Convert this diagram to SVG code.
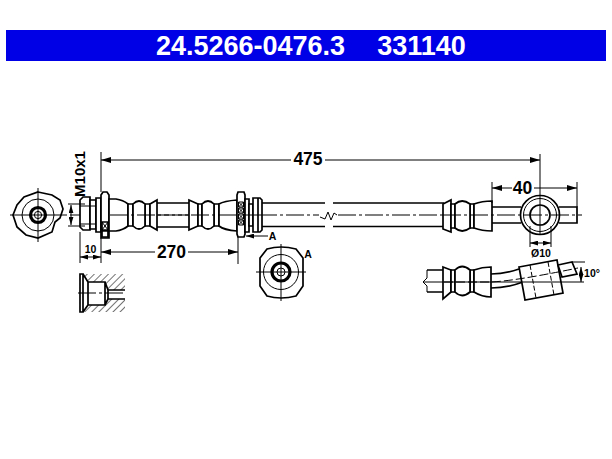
<svg xmlns="http://www.w3.org/2000/svg" width="612" height="459" viewBox="0 0 612 459">
<defs>
<style>
.o{fill:#fff;stroke:#000;stroke-width:1.7}
.n{fill:none;stroke:#000;stroke-width:1.7}
.t{fill:none;stroke:#000;stroke-width:1}
.r{fill:none;stroke:#000;stroke-width:3.2}
.c{fill:none;stroke:#000;stroke-width:1.1;stroke-dasharray:18 3 3 3}
text{font-family:"Liberation Sans",Arial,sans-serif;font-weight:700;fill:#000}
.d{font-size:17.5px;text-anchor:middle}
.s{font-size:10.5px;text-anchor:middle}
</style>
<marker id="a" viewBox="0 0 10 6" refX="10" refY="3" markerWidth="8" markerHeight="5" markerUnits="userSpaceOnUse" orient="auto-start-reverse"><path d="M0 0L10 3L0 6Z" fill="#000"/></marker>
<marker id="b" viewBox="0 0 10 6" refX="10" refY="3" markerWidth="11" markerHeight="6" markerUnits="userSpaceOnUse" orient="auto-start-reverse"><path d="M0 0L10 3L0 6Z" fill="#000"/></marker>
<pattern id="h" width="5" height="5" patternUnits="userSpaceOnUse" patternTransform="rotate(45)"><path d="M0 0V5" stroke="#000" stroke-width="1.1"/></pattern>
</defs>
<rect width="612" height="459" fill="#fff"/>
<g id="title"><rect x="6" y="30" width="600" height="31" fill="#0000e6"/>
<text x="250.500" y="55" font-size="27" text-anchor="middle" style="fill:#fff">24.5266-0476.3</text>
<text x="421.500" y="55" font-size="27" text-anchor="middle" style="fill:#fff">331140</text></g>

<g id="end-view-left">
<path class="n" d="M38 192L52 195L60 200L63 209L60 218L55 222L52 232L38 238L26 235L17 227L13 215L17 205L24 197Z"/>
<circle class="t" cx="38" cy="215" r="16"/>
<circle class="r" cx="38" cy="215" r="7.5"/>
<circle class="t" cx="38" cy="215" r="3.6"/>
<path class="t" d="M10 215H67M38 188V242"/>
</g>

<g id="hose">
<path class="n" d="M262 203H325M262 226.500H325M333 203H444M333 226.500H444"/>
<path class="t" d="M320 217L325 219L328 212L331 220L334 213L337 215"/>
<path class="c" d="M70 215H319M338 215H444"/>
</g>

<g id="fitting-left">
<path class="o" d="M80 200L83 197H90V230H83L80 227Z"/>
<path class="o" d="M90 200H96V229H90Z"/>
<path class="t" d="M80 206H96M80 224H96"/>
<path class="o" d="M96 198H101V232H96Z"/>
<path class="o" d="M101 195L103 192H107L109 195V238H101Z"/>
<path class="o" d="M102 222H108V230H102ZM102 231H108V237H102Z" stroke-width="1"/>
<path class="t" d="M102 222L108 230M108 222L102 230"/>
<path class="o" d="M109 199H116Q123 200 128 204V226Q123 230 116 231H109Z"/>
<path class="o" d="M128 204H133V226H128ZM145 204H150V226H145Z"/>
<path class="o" d="M133 204Q139 198 145 204V226Q139 232 133 226Z"/>
<path class="o" d="M150 204L157 200V230L150 226Z"/>
<path class="n" d="M157 203H189M157 227H189"/>
<path class="o" d="M189 200L198 204V226L189 230Z"/>
<path class="o" d="M198 204H202V226H198ZM214 204H219V226H214Z"/>
<path class="o" d="M202 204Q208 198 214 204V226Q208 232 202 226Z"/>
<path class="o" d="M219 204Q224 201 237 200V231Q224 230 219 226Z"/>
<path class="o" d="M237 195L238 192H244L245 195V234L244 237H238L237 234Z"/>
<path class="t" d="M238.500 202H243.500V207H238.500ZM238.500 202L243.500 207M243.500 202L238.500 207M238.500 208H243.500V213H238.500ZM238.500 208L243.500 213M243.500 208L238.500 213M238.500 214H243.500V219H238.500ZM238.500 214L243.500 219M243.500 214L238.500 219M238.500 220H243.500V225H238.500ZM238.500 220L243.500 225M243.500 220L238.500 225"/>
<path class="o" d="M245 199H249V232H245Z"/>
<path class="o" d="M249 204H253V226H249Z"/>
<path class="o" d="M253 198H260L262 200V230L260 232H253Z"/>
<path class="n" d="M258 198V232"/>
<path class="c" d="M110 215H237M245 215H262"/>
</g>

<g id="fitting-right">
<path class="o" d="M443 204L451 200V232L443 229Z"/>
<path class="o" d="M451 204H455V228H451ZM470 204H474V228H470Z"/>
<path class="o" d="M455 204Q462 198 470 204V228Q462 234 455 228Z"/>
<path class="o" d="M474 204Q482 201 492 201V231Q482 231 474 228Z"/>
<path class="n" d="M492 207H521M492 223H521M559 207H577V223H559"/>
<circle class="o" cx="540" cy="215" r="19.500"/>
<circle class="t" cx="540" cy="215" r="16.500"/>
<circle class="n" cx="540" cy="215" r="10"/>
<path class="c" d="M443 215H582" stroke-dasharray="9 3 3 3"/>
<path class="t" d="M540 154V234"/>
</g>

<g id="section-a">
<path class="n" d="M267 249Q281 245 296 249L303 258V286L296 296Q281 300 267 296L260 286V258Z"/>
<circle class="t" cx="281" cy="272" r="17.500"/>
<circle class="r" cx="281" cy="272" r="9"/>
<circle class="t" cx="281" cy="272" r="4"/>
<path class="t" d="M256 272H306M281 244V301"/>
<text x="308" y="258" font-size="10.500" text-anchor="middle">A</text>
</g>

<g id="cut-detail">
<path d="M83 274H125V290H108L105 282H88ZM83 312H125V299H108L105 305H88Z" fill="url(#h)"/>
<path class="n" d="M80 274H83V312H80ZM83 274L88 282V305L83 312M88 282H105V305H88ZM105 282L108 290V299L105 305M108 290H125M108 299H125"/>
<path class="c" d="M78 293H125"/>
</g>

<g id="bent-end">
<path class="n" d="M427 270H443M427 292H443"/>
<path class="t" d="M427 270V278L423 282L427 286V292"/>
<path class="o" d="M443 267L451 270V292L443 299Z"/>
<path class="o" d="M451 270H455V292H451ZM470 270H474V292H470Z"/>
<path class="o" d="M455 270Q462 263 470 270V292Q462 299 455 292Z"/>
<path class="o" d="M474 270Q482 267 491 267V297Q482 297 474 292Z"/>
<path class="n" d="M491 274Q505 274 519 269M491 288Q507 288 523 282"/>
<path class="o" d="M519 267L557 260L563 293L525 300Z"/>
<path class="o" d="M558 265L572 262L577 274L562 277Z"/>
<path class="t" d="M530 265L536 298M548 262L554 295" stroke-dasharray="5 2" stroke-width="1.4"/>
<path class="t" d="M424 282H584M572 262H585"/>
<path class="t" d="M444 282H491Q515 281 578 268" stroke-dasharray="9 3"/>
<path class="t" d="M581 267V282" marker-start="url(#a)" marker-end="url(#a)"/>
<text x="592" y="277" font-size="10.500" text-anchor="middle">10°</text>
</g>

<g id="connectors">
<path class="t" d="M101 152V192M101 238V263M80 232V263M238 237V264M492 182V203M577 182V207M530 226V247M551 226V247M68 204H85M68 226H85"/>
<path class="t" d="M101 160H291" marker-start="url(#b)"/>
<path class="t" d="M325 160H540" marker-end="url(#b)"/>
<path class="t" d="M101 252H155" marker-start="url(#b)"/>
<path class="t" d="M188 252H238" marker-end="url(#b)"/>
<path class="t" d="M80 257H101" marker-start="url(#a)" marker-end="url(#a)"/>
<path class="t" d="M492 188H512" marker-start="url(#b)"/>
<path class="t" d="M534 188H577" marker-end="url(#b)"/>
<path class="t" d="M530 243H551" marker-start="url(#a)" marker-end="url(#a)"/>
<path class="t" d="M71 205V225" marker-start="url(#a)" marker-end="url(#a)"/>
<path class="t" d="M268 236H246" marker-end="url(#a)"/>
<text class="d" x="308" y="165">475</text>
<text class="d" x="171.500" y="258">270</text>
<text class="d" x="522.500" y="194">40</text>
<text class="s" x="90.500" y="253">10</text>
<text class="s" x="541" y="257">Ø10</text>
<text x="272.500" y="240" font-size="10.500" text-anchor="middle">A</text>
<text font-size="15" text-anchor="middle" transform="translate(85 174) rotate(-90)">M10x1</text>
</g>
</svg>
